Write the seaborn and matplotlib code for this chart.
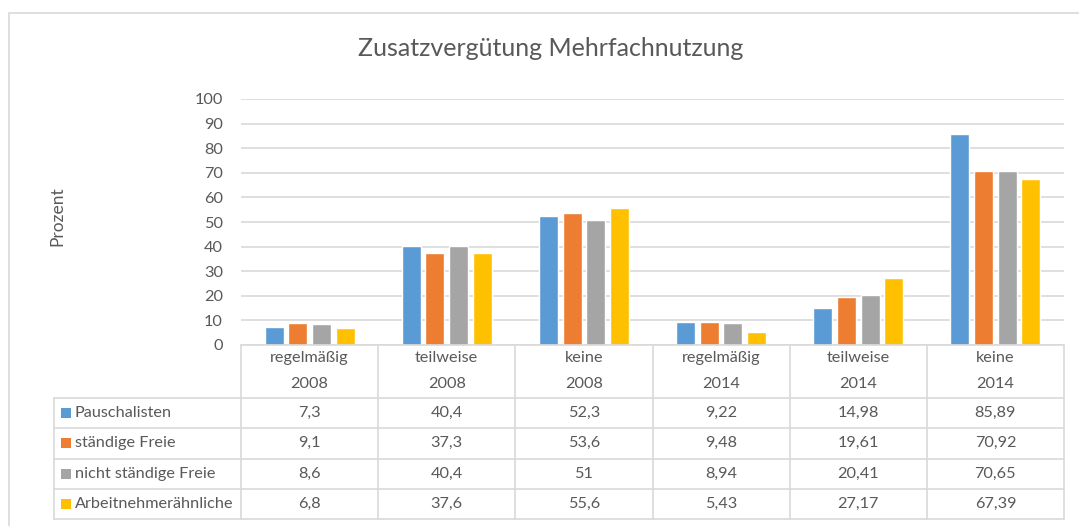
import numpy as np
import pandas as pd
import matplotlib.pyplot as plt
from matplotlib.patches import Rectangle
import seaborn as sns

# data
antworten = ["regelmäßig", "teilweise", "keine", "regelmäßig", "teilweise", "keine"]
jahre = ["2008", "2008", "2008", "2014", "2014", "2014"]
gruppen = ["Pauschalisten", "ständige Freie", "nicht ständige Freie", "Arbeitnehmerähnliche"]
pauschalisten = [7.3, 40.4, 52.3, 9.22, 14.98, 85.89]
staendige = [9.1, 37.3, 53.6, 9.48, 19.61, 70.92]
nicht_staendige = [8.6, 40.4, 51, 8.94, 20.41, 70.65]
arbeitnehmeraehnliche = [6.8, 37.6, 55.6, 5.43, 27.17, 67.39]
werte_text = [
    ["7,3", "40,4", "52,3", "9,22", "14,98", "85,89"],
    ["9,1", "37,3", "53,6", "9,48", "19,61", "70,92"],
    ["8,6", "40,4", "51", "8,94", "20,41", "70,65"],
    ["6,8", "37,6", "55,6", "5,43", "27,17", "67,39"],
]
farben = ["#5B9BD5", "#ED7D31", "#A5A5A5", "#FFC000"]

kategorien = [f"{a}\n{j}" for a, j in zip(antworten, jahre)]
serien = [pauschalisten, staendige, nicht_staendige, arbeitnehmeraehnliche]
df = pd.DataFrame({
    "kategorie": np.tile(kategorien, len(gruppen)),
    "gruppe": np.repeat(gruppen, len(kategorien)),
    "wert": np.concatenate(serien),
})

sns.set_theme(style="white")
plt.rcParams["font.family"] = ["Lato", "DejaVu Sans"]
txt = "#595959"
linie = "#D9D9D9"
fs = 11.7

W, H = 1079, 526
fig = plt.figure(figsize=(W / 100, H / 100), dpi=100)
fig.patch.set_facecolor("white")

# outer chart frame
fig.add_artist(Rectangle((9 / W, -0.05), 1.1, (H - 13) / H + 0.05, transform=fig.transFigure,
                         fill=False, edgecolor=linie, linewidth=1.2))

x0, x1 = 241, 1064
y_top, y_null = 99, 345
ax = fig.add_axes([x0 / W, (H - y_null) / H, (x1 - x0) / W, (y_null - y_top) / H])
sns.barplot(data=df, x="kategorie", y="wert", hue="gruppe", palette=farben,
            width=0.69, gap=0.2, ax=ax, legend=False, saturation=1)
ax.set_ylim(0, 100)
ax.set_xlim(-0.5, len(kategorien) - 0.5)
ax.set_yticks(range(0, 101, 10))
ax.tick_params(axis="y", length=0, pad=13, labelsize=fs, labelcolor=txt)
ax.set_xticks([])
ax.set_xlabel("")
ax.set_ylabel("")
ax.yaxis.grid(True, color=linie, linewidth=1.2)
ax.set_axisbelow(True)
for s in ax.spines.values():
    s.set_visible(False)

fig.text(551 / W, 1 - 48 / H, "Zusatzvergütung Mehrfachnutzung", ha="center", va="center",
         fontsize=18, color=txt)
fig.text(57 / W, 1 - 216 / H, "Prozent", rotation=90, ha="center", va="center",
         fontsize=12.5, color=txt)

# data table below the chart
t_left, t_bottom, t_head = 54, 519, 398
tab = fig.add_axes([t_left / W, (H - t_bottom) / H, (x1 - t_left) / W, (t_bottom - y_null) / H])
tab.set_xlim(t_left, x1)
tab.set_ylim(t_bottom, y_null)
tab.axis("off")

spalten = np.linspace(x0, x1, len(kategorien) + 1)
zeilen = np.linspace(t_head, t_bottom, len(gruppen) + 1)
lw = 1.2
for xs in spalten:
    tab.plot([xs, xs], [y_null, t_bottom], color=linie, lw=lw, clip_on=False)
tab.plot([t_left, t_left], [t_head, t_bottom], color=linie, lw=lw, clip_on=False)
tab.plot([x0, x1], [y_null, y_null], color=linie, lw=lw, clip_on=False)
for ys in zeilen:
    tab.plot([t_left, x1], [ys, ys], color=linie, lw=lw, clip_on=False)

mitten = (spalten[:-1] + spalten[1:]) / 2
for xm, a, j in zip(mitten, antworten, jahre):
    tab.text(xm, 358, a, ha="center", va="center", fontsize=fs, color=txt)
    tab.text(xm, 384, j, ha="center", va="center", fontsize=fs, color=txt)

zmitten = (zeilen[:-1] + zeilen[1:]) / 2
for ym, name, farbe, reihe in zip(zmitten, gruppen, farben, werte_text):
    tab.add_patch(Rectangle((61, ym - 5), 10, 10, facecolor=farbe, edgecolor="none"))
    tab.text(75, ym, name, ha="left", va="center", fontsize=fs, color=txt)
    for xm, w in zip(mitten, reihe):
        tab.text(xm, ym, w, ha="center", va="center", fontsize=fs, color=txt)

fig.savefig("out.png", dpi=100)
